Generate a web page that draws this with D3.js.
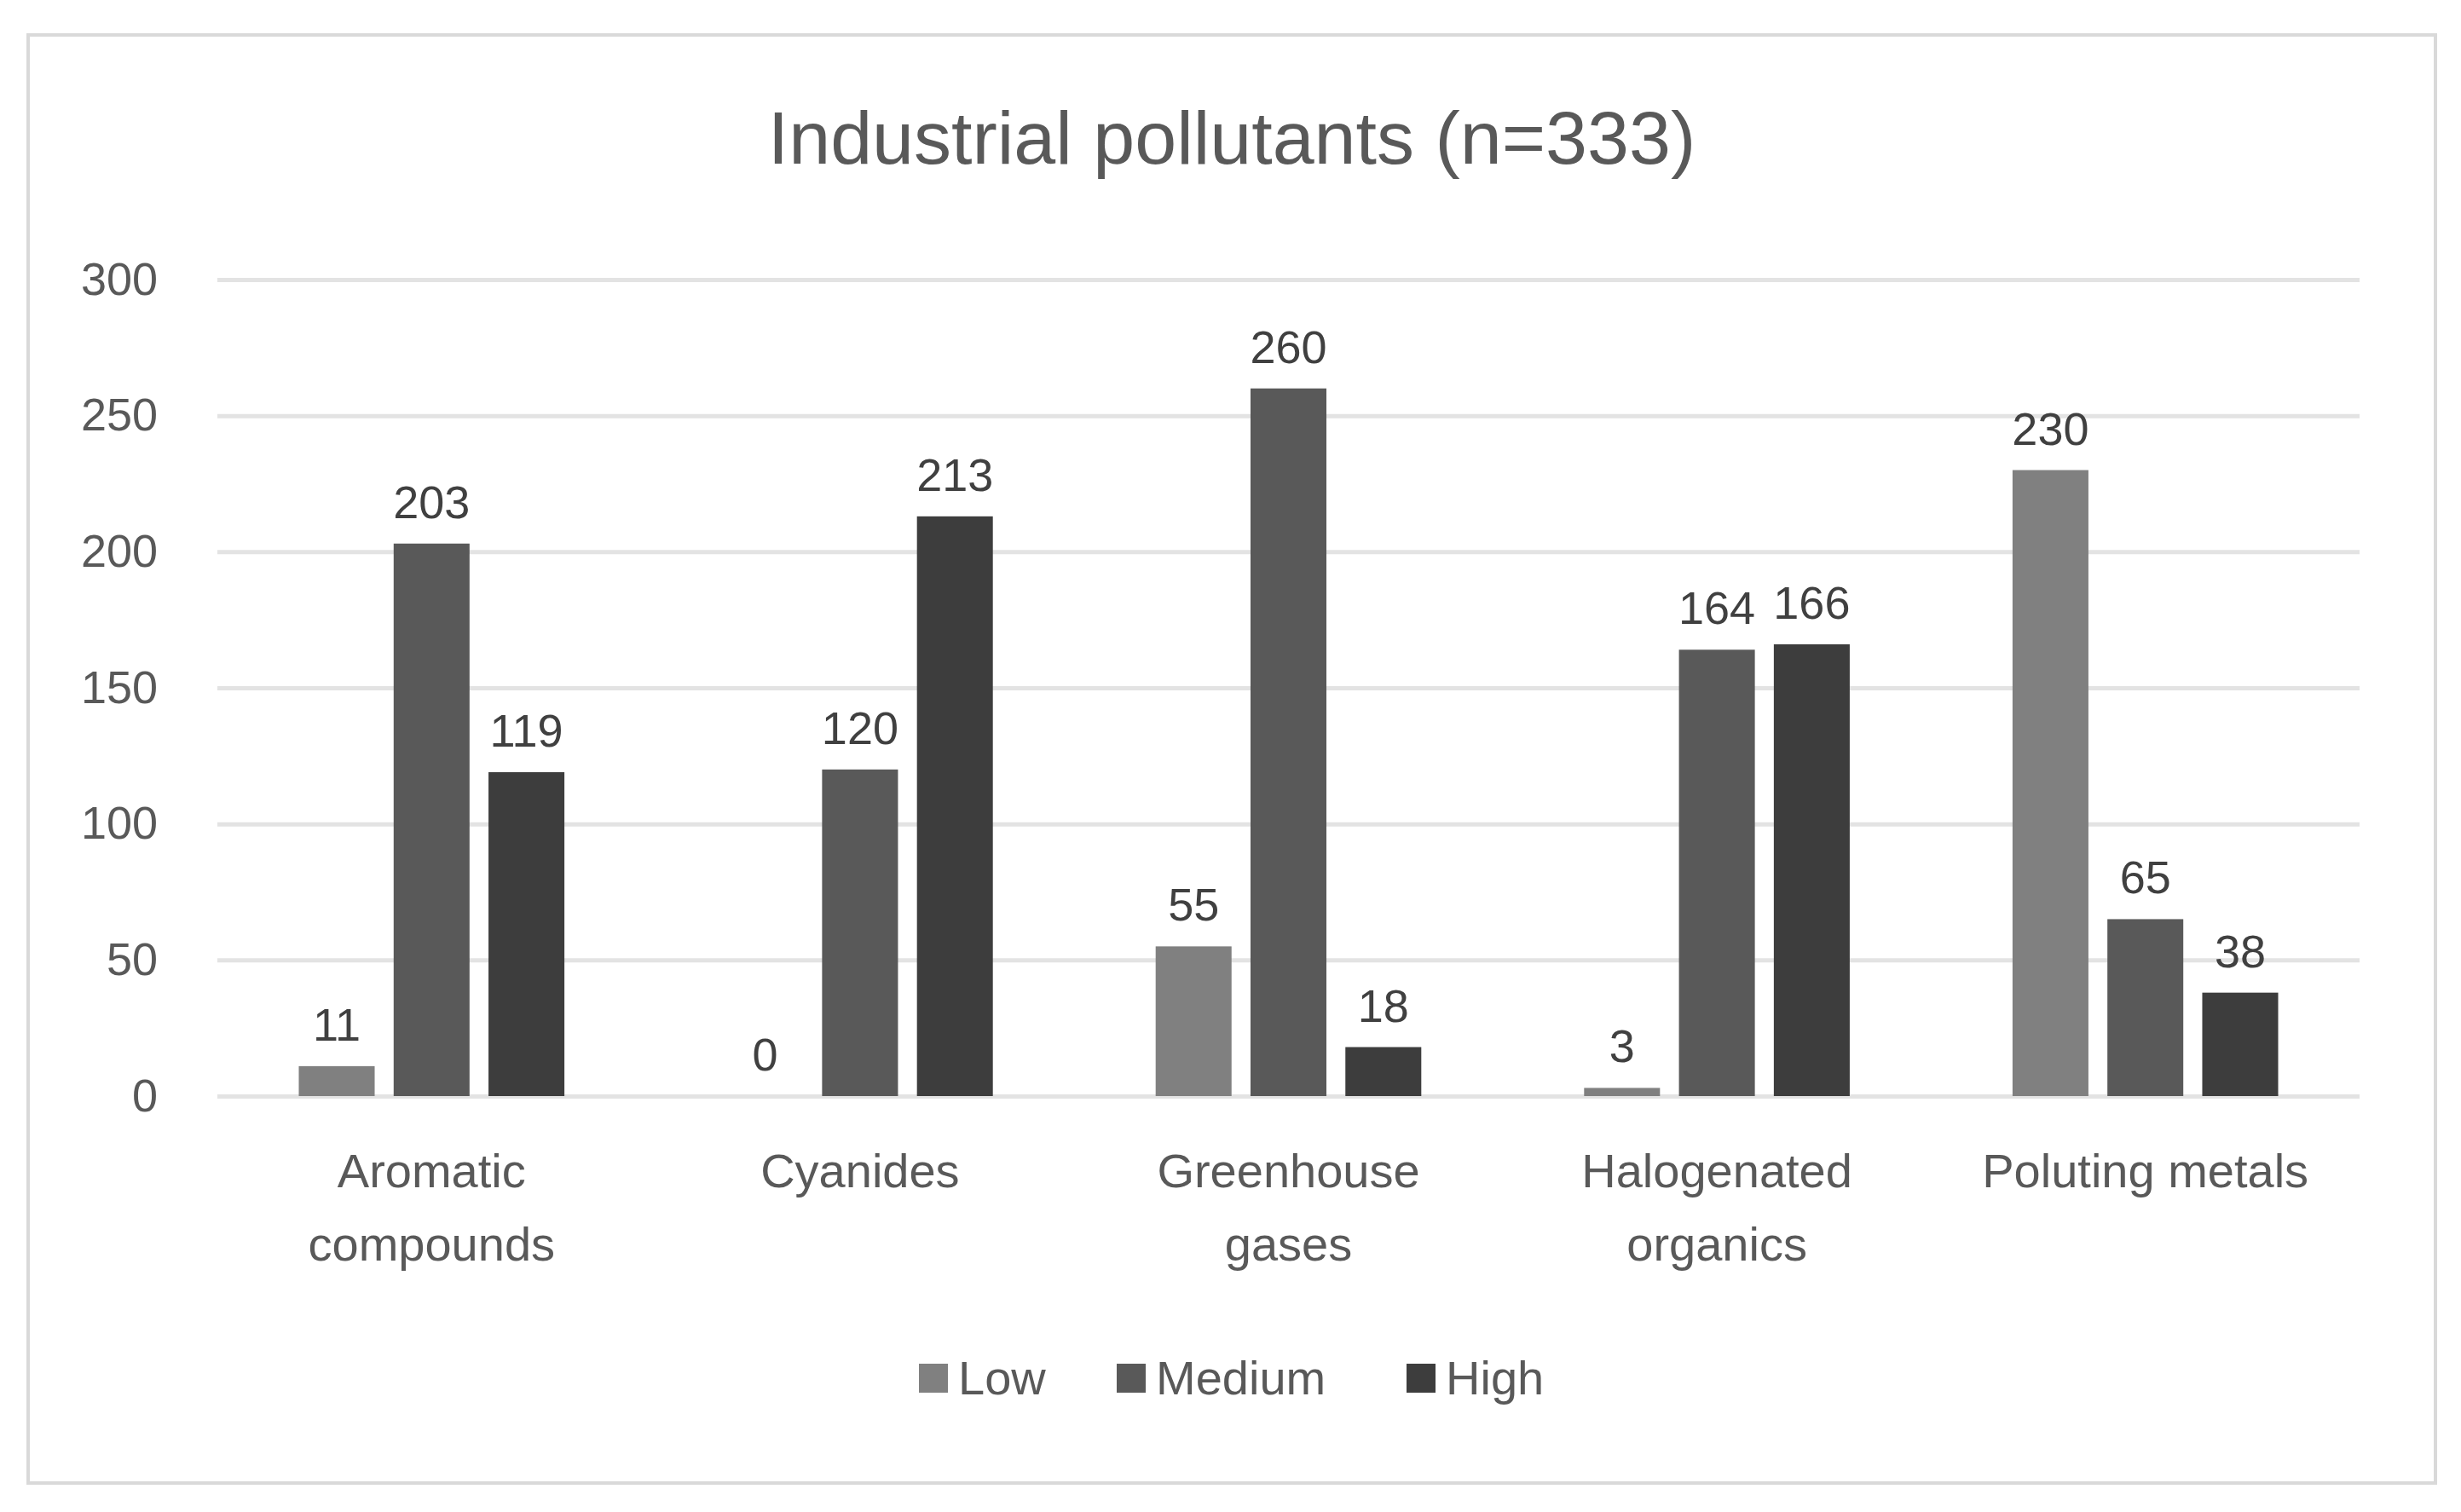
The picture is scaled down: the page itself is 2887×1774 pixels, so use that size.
<!DOCTYPE html>
<html><head><meta charset="utf-8">
<script src="https://d3js.org/d3.v7.min.js"></script>
<style>body{margin:0;background:#fff}text{font-family:"Liberation Sans",Arial,sans-serif}</style>
</head><body><svg id="c" width="2887" height="1774"></svg>
<script>
const categories=[["Aromatic","compounds"],["Cyanides"],["Greenhouse","gases"],["Halogenated","organics"],["Poluting metals"]];
const seriesNames=["Low","Medium","High"];
const low=[11,0,55,3,230];
const medium=[203,120,260,164,65];
const high=[119,213,18,166,38];
const yTicks=[0,50,100,150,200,250,300];
const colors=["#808080","#595959","#3d3d3d"];
const values=[low,medium,high];

const svg=d3.select("#c");
svg.append("rect").attr("x",33).attr("y",41).attr("width",2824).attr("height",1699).attr("fill","#fff").attr("stroke","#d9d9d9").attr("stroke-width",4);
svg.append("text").attr("x",1445).attr("y",192).attr("text-anchor","middle").attr("font-size",88).attr("fill","#595959").text("Industrial pollutants (n=333)");

const L=255,R=2768,T=328,B=1286;
const y=d3.scaleLinear().domain([0,300]).range([B,T]);
const x0=d3.scaleBand().domain(d3.range(5)).range([L,R]);
const x1=d3.scaleBand().domain(d3.range(3)).range([x0.bandwidth()*0.19,x0.bandwidth()*0.81]).paddingInner(0.2);

const ax=svg.append("g").attr("transform",`translate(${L},0)`).call(d3.axisLeft(y).tickValues(yTicks).tickSize(-(R-L)).tickPadding(70));
ax.select(".domain").remove();
ax.selectAll("line").attr("stroke","#e3e3e3").attr("stroke-width",5);
ax.selectAll("text").attr("font-size",54).attr("fill","#595959").attr("font-family","Liberation Sans, Arial, sans-serif");

const g=svg.append("g");
categories.forEach((c,i)=>{
  values.forEach((s,j)=>{
    const v=s[i];
    const xx=x0(i)+x1(j);
    g.append("rect").attr("x",xx).attr("y",y(v)).attr("width",x1.bandwidth()).attr("height",B-y(v)).attr("fill",colors[j]);
    g.append("text").attr("x",xx+x1.bandwidth()/2).attr("y",y(v)-30).attr("text-anchor","middle").attr("font-size",54).attr("fill","#404040").text(v);
  });
  c.forEach((ln,k)=>g.append("text").attr("x",x0(i)+x0.bandwidth()/2).attr("y",1393+k*86).attr("text-anchor","middle").attr("font-size",56).attr("fill","#595959").text(ln));
});

const lg=svg.append("g");
const lx=[1078,1310,1650];
seriesNames.forEach((n,j)=>{
  lg.append("rect").attr("x",lx[j]).attr("y",1600).attr("width",34).attr("height",34).attr("fill",colors[j]);
  lg.append("text").attr("x",lx[j]+46).attr("y",1636).attr("font-size",56).attr("fill","#595959").text(n);
});
</script></body></html>
